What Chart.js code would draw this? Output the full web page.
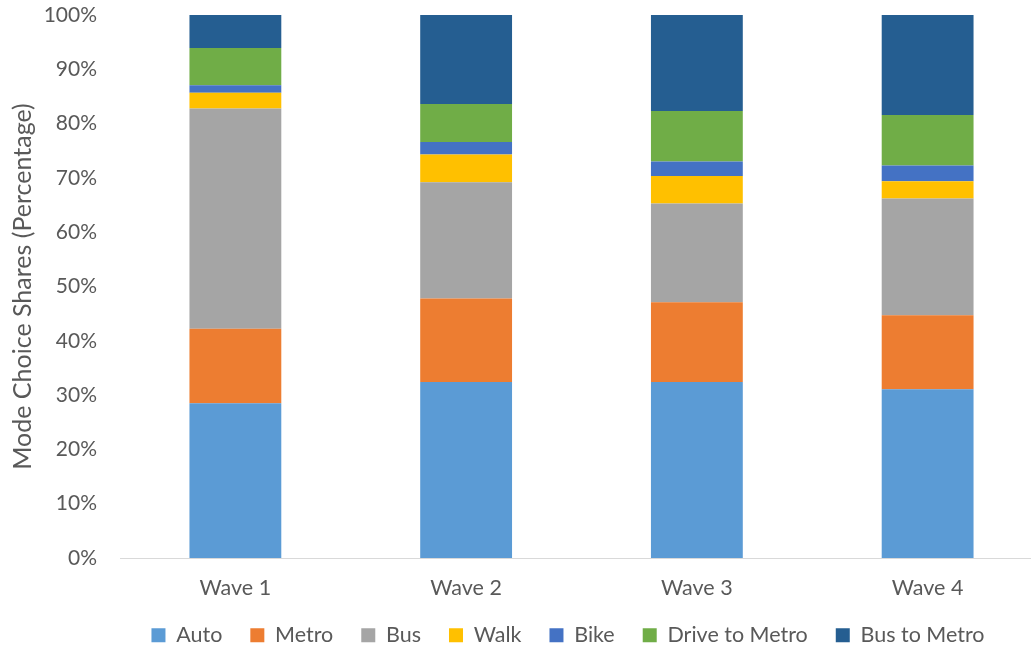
<!DOCTYPE html>
<html>
<head>
<meta charset="utf-8">
<title>Mode Choice Shares by Wave</title>
<script src="https://cdn.jsdelivr.net/npm/chart.js@4.4.1/dist/chart.umd.min.js"></script>
<style>
  html, body { margin: 0; padding: 0; background: #ffffff; overflow: hidden; }
  #wrap { width: 1136px; height: 649px; }
</style>
</head>
<body>
<div id="wrap"><canvas id="chart" width="1136" height="649"></canvas></div>
<script>
// Survey waves (categories)
const waves = ['Wave 1', 'Wave 2', 'Wave 3', 'Wave 4'];

// Share of trips by mode, percent of each wave
const auto        = [28.5, 32.4, 32.4, 31.1];
const metro       = [13.7, 15.4, 14.7, 13.6];
const bus         = [40.6, 21.4, 18.2, 21.5];
const walk        = [2.9, 5.1, 5.05, 3.2];
const bike        = [1.35, 2.3, 2.65, 2.9];
const driveMetro  = [6.85, 7.0, 9.3, 9.3];
const busMetro    = [6.1, 16.4, 17.7, 18.4];

// Y axis ticks
const yTicks = [0, 10, 20, 30, 40, 50, 60, 70, 80, 90, 100];

const modes = [
  { label: 'Auto',           data: auto,       color: '#5B9BD5' },
  { label: 'Metro',          data: metro,      color: '#ED7D31' },
  { label: 'Bus',            data: bus,        color: '#A5A5A5' },
  { label: 'Walk',           data: walk,       color: '#FFC000' },
  { label: 'Bike',           data: bike,       color: '#4472C4' },
  { label: 'Drive to Metro', data: driveMetro, color: '#70AD47' },
  { label: 'Bus to Metro',   data: busMetro,   color: '#255E91' }
];

const textColor = '#595959';
const family = 'Lato, "Open Sans", sans-serif';

new Chart(document.getElementById('chart'), {
  type: 'bar',
  data: {
    labels: waves,
    datasets: modes.map(m => ({
      label: m.label,
      data: m.data,
      backgroundColor: m.color,
      borderWidth: 0,
      barPercentage: 1,
      categoryPercentage: 0.398
    }))
  },
  options: {
    responsive: false,
    animation: false,
    layout: { padding: { top: 15, left: 0, right: 0, bottom: -7 } },
    plugins: {
      tooltip: { enabled: false },
      legend: {
        position: 'bottom',
        labels: {
          color: textColor,
          font: { family, size: 21.5 },
          boxWidth: 14,
          boxHeight: 14,
          padding: 28
        }
      }
    },
    scales: {
      x: {
        stacked: true,
        afterFit: s => { s.height = 38.5; },
        grid: { display: false },
        border: { display: true, color: '#D9D9D9', width: 1 },
        ticks: { color: textColor, font: { family, size: 21.5 }, padding: 9 }
      },
      y: {
        stacked: true,
        min: 0,
        max: 100,
        afterBuildTicks: s => { s.ticks = yTicks.map(v => ({ value: v })); },
        afterFit: s => { s.width = 120; s.paddingTop = 0; s.paddingBottom = 0; },
        grid: { display: false },
        border: { display: false },
        ticks: {
          color: textColor,
          font: { family, size: 21 },
          padding: 15,
          callback: v => v + '%'
        },
        title: {
          display: true,
          text: 'Mode Choice Shares (Percentage)',
          color: textColor,
          font: { family, size: 25 },
          padding: { top: 8, bottom: 0 }
        }
      },
      // empty right-hand axis: reserves room so the legend centres under the whole figure
      spacer: {
        type: 'linear',
        position: 'right',
        display: true,
        grid: { display: false },
        border: { display: false },
        ticks: { display: false },
        afterFit: s => { s.width = 93; s.paddingTop = 0; s.paddingBottom = 0; }
      }
    }
  }
});
</script>
</body>
</html>
